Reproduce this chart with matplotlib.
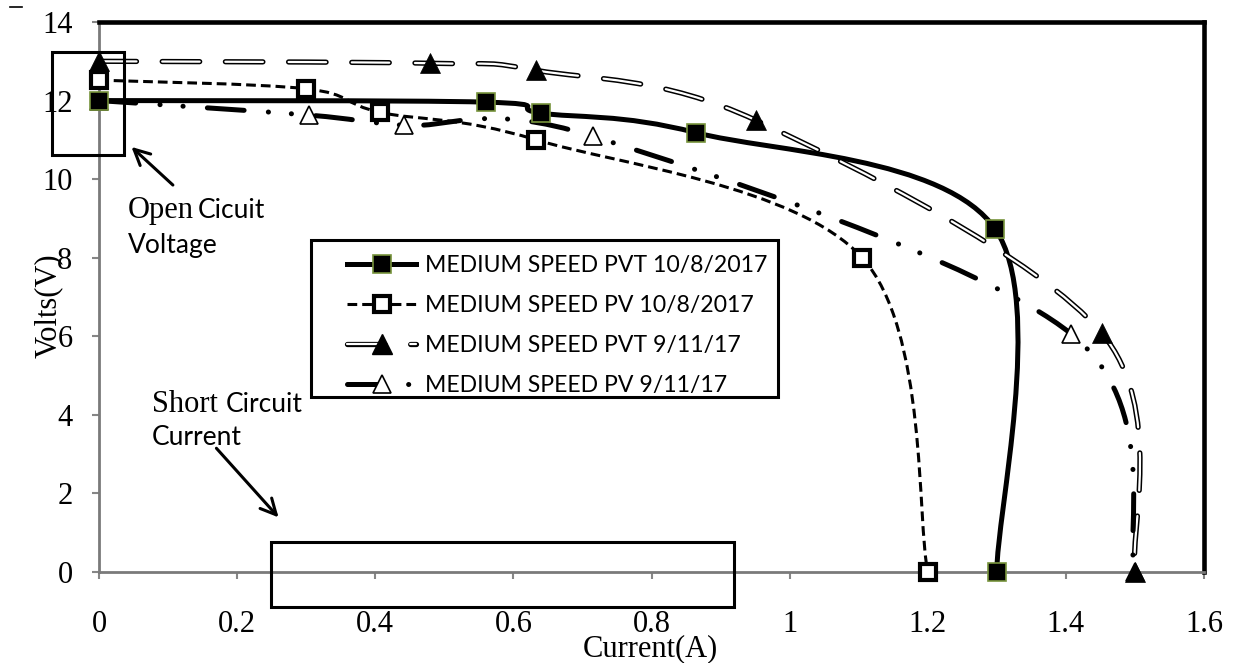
import numpy as np
import matplotlib
matplotlib.use('Agg')
import matplotlib.pyplot as plt
from matplotlib.path import Path
from matplotlib.patches import PathPatch, Rectangle
from matplotlib.lines import Line2D

plt.rcParams['lines.scale_dashes'] = False

# data (current A, voltage V)
pvt_oct_i = [0, 0.56, 0.64, 0.865, 1.298, 1.30]
pvt_oct_v = [12.0, 11.96, 11.68, 11.18, 8.72, 0]
pv_oct_i = [0, 0.30, 0.407, 0.633, 1.105, 1.20]
pv_oct_v = [12.52, 12.3, 11.7, 11.0, 8.0, 0]
pvt_nov_i = [0, 0.479, 0.633, 0.951, 1.452, 1.50]
pvt_nov_v = [13.0, 12.95, 12.77, 11.5, 6.08, 0]
pv_nov_i = [0, 0.304, 0.441, 0.715, 1.407, 1.50]
pv_nov_v = [12.0, 11.63, 11.37, 11.09, 6.07, 0]

labels = ['MEDIUM SPEED PVT 10/8/2017', 'MEDIUM SPEED PV 10/8/2017',
          'MEDIUM SPEED PVT 9/11/17', 'MEDIUM SPEED PV 9/11/17']
xticks = [0, 0.2, 0.4, 0.6, 0.8, 1.0, 1.2, 1.4, 1.6]
xticklabels = ['0', '0.2', '0.4', '0.6', '0.8', '1', '1.2', '1.4', '1.6']
yticks = [0, 2, 4, 6, 8, 10, 12, 14]

W, H = 1238, 663
SERIF = 'Liberation Serif'
SANS = 'Lato'


def fx(px):
    return px / W


def fy(py):
    return 1 - py / H


def smooth(x, y):
    # excel-like smoothed line: catmull-rom turned into bezier segments
    p = np.column_stack([x, y]).astype(float)
    n = len(p)
    verts = [p[0]]
    codes = [Path.MOVETO]
    for i in range(n - 1):
        p0 = p[max(i - 1, 0)]
        p1 = p[i]
        p2 = p[i + 1]
        p3 = p[min(i + 2, n - 1)]
        verts += [p1 + (p2 - p0) / 6, p2 - (p3 - p1) / 6, p2]
        codes += [Path.CURVE4] * 3
    return Path(verts, codes)


fig = plt.figure(figsize=(W / 100, H / 100), dpi=100)
ax = fig.add_axes([fx(99), fy(572), fx(1204) - fx(99), fy(22) - fy(572)])

green = '#77933C'
ls_pv_oct = (0, (7, 3.6))
ls_pvt_nov = (0, (27, 18.5))
ls_pv_nov = (0, (26.5, 17.5, 0.1, 16.5, 0.1, 17.5))

# series 1
ax.add_patch(PathPatch(smooth(pvt_oct_i, pvt_oct_v), fill=False, ec='k', lw=3.6,
                       capstyle='round', zorder=2, clip_on=False))
ax.plot(pvt_oct_i, pvt_oct_v, ls='none', marker='s', ms=13, mfc='k', mec=green,
        mew=1.2, zorder=6.4, clip_on=False)
# series 2
ax.add_patch(PathPatch(smooth(pv_oct_i, pv_oct_v), fill=False, ec='k', lw=2.2,
                       ls=ls_pv_oct, zorder=3, clip_on=False))
ax.plot(pv_oct_i, pv_oct_v, ls='none', marker='s', ms=12, mfc='w', mec='k',
        mew=3, zorder=6.3, clip_on=False)
# series 3 (double line)
p3 = smooth(pvt_nov_i, pvt_nov_v)
ax.add_patch(PathPatch(p3, fill=False, ec='k', lw=3.8, ls=ls_pvt_nov,
                       capstyle='round', zorder=4, clip_on=False))
ax.add_patch(PathPatch(p3, fill=False, ec='w', lw=1.6, ls=ls_pvt_nov,
                       capstyle='round', zorder=4.05, clip_on=False))
ax.plot(pvt_nov_i, pvt_nov_v, ls='none', marker='^', ms=15, mfc='k', mec='k',
        mew=0.5, zorder=6.2, clip_on=False)
# series 4
ax.add_patch(PathPatch(smooth(pv_nov_i, pv_nov_v), fill=False, ec='k', lw=3.6,
                       ls=ls_pv_nov, capstyle='round', zorder=5, clip_on=False))
ax.plot(pv_nov_i, pv_nov_v, ls='none', marker='^', ms=12.5, mfc='w', mec='k',
        mew=1.2, zorder=6.1, clip_on=False)

ax.set_xlim(0, 1.6)
ax.set_ylim(0, 14)
ax.set_xticks(xticks)
ax.set_xticklabels(xticklabels)
ax.set_yticks(yticks)
for lab in ax.get_xticklabels() + ax.get_yticklabels():
    lab.set_fontfamily(SERIF)
    lab.set_fontsize(22)
ax.tick_params(axis='both', direction='out', length=5, width=1.5, color='#868686')
ax.tick_params(axis='x', pad=22)
ax.tick_params(axis='y', pad=14)
for s in ['left', 'bottom']:
    ax.spines[s].set_color('#7a7a7a')
    ax.spines[s].set_linewidth(2)
for s in ['top', 'right']:
    ax.spines[s].set_color('k')
    ax.spines[s].set_linewidth(3.3)

ax.set_xlabel('Current(A)', fontfamily=SERIF, fontsize=22)
ax.set_ylabel('Volts(V)', fontfamily=SERIF, fontsize=22)
ax.xaxis.set_label_coords(0.4986, -0.113)
ax.yaxis.set_label_coords(-0.033, 0.4836)

# annotations
ax.add_patch(Rectangle((-0.068, 10.61), 0.104, 2.62, fill=False, ec='k', lw=2.2,
                       zorder=7, clip_on=False))
ax.add_patch(Rectangle((0.249, -0.89), 0.671, 1.65, fill=False, ec='k', lw=2.2,
                       zorder=7, clip_on=False))
arrow = dict(arrowstyle='->', lw=2.2, color='k', mutation_scale=28, shrinkA=0, shrinkB=0)
ax.annotate('', xy=(0.047, 10.82), xytext=(0.107, 9.85), arrowprops=arrow,
            annotation_clip=False)
ax.annotate('', xy=(0.260, 1.39), xytext=(0.170, 3.15), arrowprops=arrow,
            annotation_clip=False)
ax.text(0.042, 9.01, 'Open', fontfamily=SERIF, fontsize=22, va='baseline')
ax.text(0.143, 9.01, 'Cicuit', fontfamily=SANS, fontsize=19, va='baseline')
ax.text(0.042, 8.12, 'Voltage', fontfamily=SANS, fontsize=19, va='baseline')
ax.text(0.0767, 4.07, 'Short', fontfamily=SERIF, fontsize=22, va='baseline')
ax.text(0.183, 4.07, 'Circuit', fontfamily=SANS, fontsize=19, va='baseline')
ax.text(0.0767, 3.23, 'Current', fontfamily=SANS, fontsize=19, va='baseline')

# legend
h1 = Line2D([], [], color='k', lw=3.6, marker='s', ms=13, mfc='k', mec=green, mew=1.2)
h2 = Line2D([], [], color='k', lw=2.2, ls=ls_pv_oct, marker='s', ms=12, mfc='w',
            mec='k', mew=3)
h3 = (Line2D([], [], color='k', lw=3.8, ls=ls_pvt_nov, dash_capstyle='round'),
      Line2D([], [], color='w', lw=1.6, ls=ls_pvt_nov, dash_capstyle='round'),
      Line2D([], [], ls='none', marker='^', ms=15, mfc='k', mec='k'))
h4 = Line2D([], [], color='k', lw=3.6, ls=ls_pv_nov, dash_capstyle='round',
            marker='^', ms=12.5, mfc='w', mec='k', mew=1.2)
ax.add_patch(Rectangle((fx(311), fy(397)), fx(778) - fx(311), fy(240) - fy(397),
                       transform=fig.transFigure, fc='w', ec='k', lw=2.2,
                       zorder=8, clip_on=False))
fs_leg = 16.6
leg = ax.legend([h1, h2, h3, h4], labels, loc='upper left',
                bbox_to_anchor=(fx(347), fy(255)), bbox_transform=fig.transFigure,
                frameon=False, borderpad=0, borderaxespad=0, numpoints=1,
                handlelength=50 / fs_leg, handletextpad=0.36, labelspacing=0.83,
                prop=dict(family=SANS, size=fs_leg))
leg.set_zorder(9)

# small stray dash in the top-left corner
fig.add_artist(Line2D([fx(10), fx(22)], [fy(7), fy(7)], color='k', lw=1.2))

fig.savefig('out.png', dpi=100)
